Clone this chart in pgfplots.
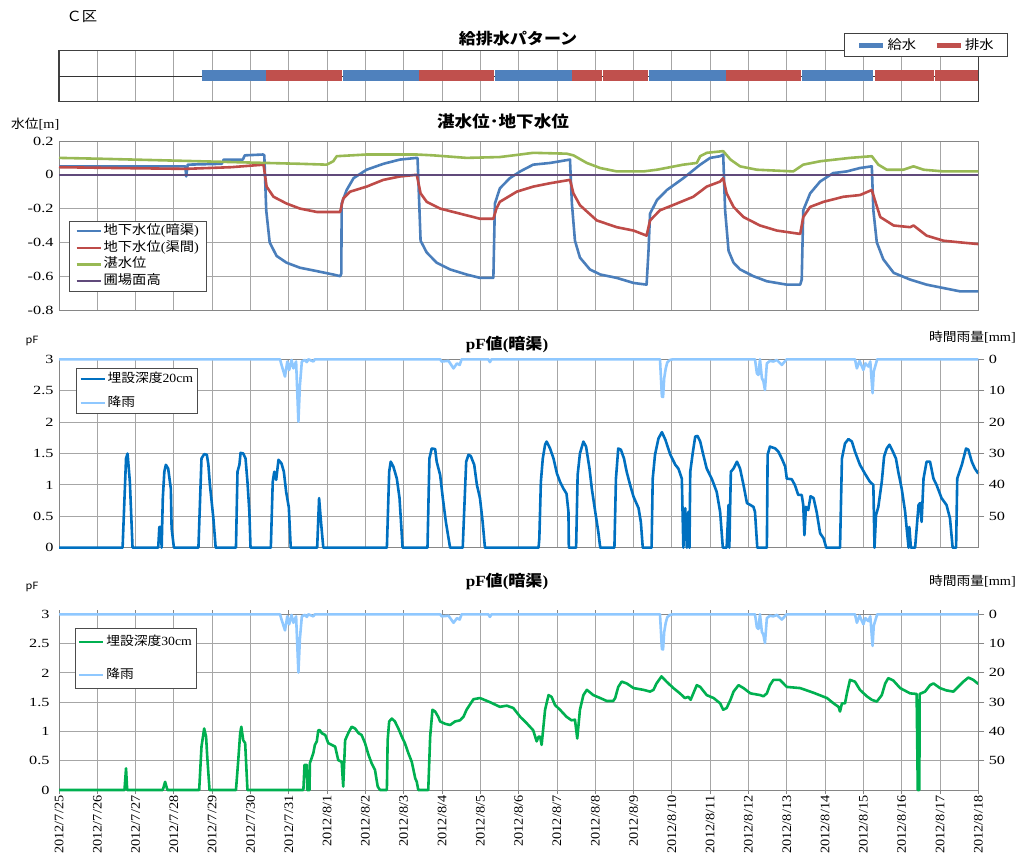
\documentclass[border=0pt]{standalone}
\usepackage{fontspec}
\setmainfont{Liberation Serif}[FakeStretch=1.1]
\newfontfamily\cjk{Noto Sans CJK JP}[FakeStretch=1.1]
\newfontfamily\tickfont{Liberation Serif}[FakeStretch=1.3]
\newfontfamily\datefont{Liberation Serif}[FakeStretch=1.1]
\usepackage{pgfplots}
\usepackage{pgfplotstable}
\pgfplotsset{compat=1.18}
\definecolor{cblue}{HTML}{4A7EBB}
\definecolor{cred}{HTML}{BE4B48}
\definecolor{cgreen}{HTML}{98B954}
\definecolor{cpurple}{HTML}{604A7B}
\definecolor{cpf20}{HTML}{0070C0}
\definecolor{crain}{HTML}{8FC8FF}
\definecolor{cpf30}{HTML}{00B050}
\definecolor{barblue}{HTML}{4F81BD}
\definecolor{barred}{HTML}{C0504D}
\definecolor{gridc}{HTML}{A6A6A6}
\definecolor{axisc}{HTML}{868686}

\pgfplotstableread{
x y
0 0
5.77 0
5.81 1.8
5.90 5.5
5.96 0.7
6.01 3.4
6.07 0.2
6.12 2.9
6.19 0.7
6.25 19.9
6.29 8.2
6.34 0.7
6.42 0.2
6.47 0.9
6.51 0
6.64 0.7
6.68 0
9.95 0
9.99 0.7
10.17 0.5
10.30 2.9
10.39 1.3
10.46 1.8
10.51 0
11.21 0
11.25 0.9
11.29 0
15.69 0
15.74 11.9
15.77 12
15.80 6
15.84 2.9
15.88 1.0
15.95 0.2
16.03 0
18.17 0
18.22 4.5
18.26 5
18.30 0
18.35 6
18.39 7
18.43 9.8
18.48 1.3
18.56 0.5
18.65 0.7
18.74 0.2
18.87 1.8
18.96 0.5
19.00 0
20.78 0
20.83 2.9
20.90 0.5
21.00 3.4
21.05 1.3
21.13 2.3
21.18 0.7
21.24 10.8
21.27 3.9
21.36 0
24 0
}\rain

\pgfplotstableread{
x y
0 0
1.66 0
1.75 1.42
1.79 1.50
1.85 1.05
1.92 0
2.59 0
2.62 0.33
2.66 0.33
2.68 0
2.71 0.79
2.75 1.21
2.79 1.32
2.85 1.26
2.92 0.94
2.94 0.31
3.00 0
3.64 0
3.72 1.42
3.79 1.49
3.86 1.48
3.90 1.32
3.94 1.0
4.03 0.47
4.09 0
4.62 0
4.66 1.21
4.71 1.32
4.74 1.51
4.81 1.50
4.87 1.42
4.92 1.05
4.97 0.57
5.00 0
5.53 0
5.58 1.05
5.62 1.21
5.67 1.08
5.73 1.40
5.81 1.34
5.87 1.21
5.93 0.89
6.00 0.64
6.05 0
6.74 0
6.79 0.79
6.84 0.41
6.90 0
8.56 0
8.62 1.21
8.66 1.37
8.73 1.29
8.82 1.10
8.89 0.79
8.97 0
9.62 0
9.67 1.42
9.73 1.58
9.82 1.57
9.86 1.37
9.95 1.16
10.02 0.79
10.10 0.41
10.21 0
10.54 0
10.63 1.37
10.69 1.48
10.75 1.46
10.84 1.32
10.91 1.0
10.99 0.79
11.06 0.41
11.12 0
12.52 0
12.54 0.15
12.58 1.05
12.63 1.42
12.69 1.64
12.73 1.69
12.82 1.58
12.91 1.42
13.00 1.18
13.08 1.05
13.17 0.94
13.25 0.86
13.30 0.57
13.31 0
13.50 0
13.54 1.16
13.60 1.50
13.69 1.69
13.76 1.61
13.85 1.26
13.91 0.94
14.00 0.57
14.08 0.25
14.13 0
14.50 0
14.54 1.10
14.60 1.58
14.67 1.56
14.75 1.42
14.82 1.21
14.91 1.0
15.00 0.81
15.13 0.63
15.19 0.41
15.24 0
15.47 0
15.50 1.10
15.56 1.48
15.65 1.74
15.74 1.84
15.83 1.72
15.96 1.48
16.09 1.32
16.17 1.26
16.26 1.10
16.30 0
16.35 0.63
16.39 0
16.43 0.57
16.46 0
16.48 1.21
16.55 1.53
16.61 1.77
16.67 1.78
16.74 1.69
16.82 1.48
16.91 1.26
17.04 1.10
17.17 0.89
17.26 0.57
17.33 0
17.43 0
17.48 0.68
17.50 0
17.54 1.21
17.61 1.26
17.70 1.37
17.78 1.26
17.87 1.0
17.96 0.71
18.05 0.68
18.13 0.65
18.17 0.57
18.23 0
18.48 0
18.50 1.48
18.56 1.61
18.70 1.58
18.78 1.53
18.87 1.42
18.96 1.29
19.00 1.10
19.13 1.09
19.21 1.0
19.30 0.84
19.39 0.84
19.43 0.68
19.46 0.20
19.50 0.65
19.56 0.60
19.62 0.82
19.70 0.79
19.78 0.57
19.87 0.23
19.96 0.15
20.03 0
20.39 0
20.44 1.42
20.52 1.66
20.61 1.73
20.70 1.69
20.78 1.53
20.91 1.32
21.04 1.18
21.17 1.05
21.26 1.0
21.29 0
21.33 0.52
21.39 0.65
21.48 1.05
21.54 1.45
21.61 1.58
21.68 1.64
21.77 1.53
21.85 1.42
21.91 1.21
22.00 0.94
22.09 0.57
22.13 0.31
22.18 0
22.20 0.33
22.24 0
22.35 0
22.44 0.68
22.48 0.71
22.52 0.41
22.57 1.10
22.65 1.37
22.74 1.37
22.83 1.10
22.91 1.0
23.04 0.79
23.17 0.68
23.26 0.47
23.33 0
23.42 0
23.45 1.10
23.57 1.32
23.68 1.58
23.74 1.56
23.83 1.37
23.91 1.26
24.00 1.18
}\pftwenty

\pgfplotstableread{
x y
0 0
1.71 0
1.75 0.37
1.78 0
2.71 0
2.77 0.14
2.83 0
3.66 0
3.72 0.74
3.79 1.05
3.84 0.91
3.87 0.57
3.93 0
4.62 0
4.68 0.51
4.73 0.97
4.76 1.08
4.81 0.85
4.86 0.80
4.92 0
6.38 0
6.41 0.43
6.47 0.43
6.48 0
6.54 0
6.55 0.46
6.64 0.63
6.68 0.77
6.73 0.83
6.77 1.02
6.81 1.02
6.86 0.97
6.95 0.94
7.03 0.80
7.12 0.77
7.21 0.74
7.29 0.51
7.38 0.48
7.42 0.06
7.47 0.85
7.55 0.97
7.64 1.08
7.73 1.05
7.82 0.97
7.90 0.94
7.99 0.80
8.08 0.60
8.16 0.46
8.25 0.34
8.32 0.06
8.38 0
8.56 0
8.58 0.85
8.62 1.17
8.69 1.22
8.77 1.17
8.86 1.05
8.95 0.91
9.03 0.80
9.12 0.63
9.21 0.48
9.30 0.20
9.34 0.14
9.38 0
9.64 0
9.69 0.91
9.75 1.37
9.82 1.34
9.90 1.25
9.95 1.17
10.08 1.13
10.21 1.11
10.34 1.17
10.47 1.19
10.56 1.25
10.64 1.37
10.73 1.46
10.82 1.55
10.99 1.57
11.25 1.50
11.51 1.42
11.69 1.44
11.86 1.40
12.04 1.25
12.21 1.14
12.38 1.02
12.47 0.83
12.52 0.91
12.56 0.91
12.60 0.77
12.69 1.37
12.78 1.62
12.86 1.59
12.95 1.45
13.08 1.37
13.25 1.25
13.38 1.19
13.47 1.20
13.53 0.88
13.60 1.37
13.69 1.62
13.78 1.71
13.95 1.62
14.13 1.57
14.30 1.52
14.47 1.52
14.52 1.57
14.60 1.76
14.69 1.85
14.82 1.82
15.00 1.74
15.26 1.71
15.43 1.68
15.52 1.71
15.60 1.82
15.73 1.94
15.86 1.85
16.04 1.74
16.21 1.65
16.34 1.57
16.43 1.59
16.49 1.54
16.56 1.65
16.65 1.79
16.74 1.76
16.91 1.62
17.09 1.57
17.26 1.48
17.34 1.37
17.43 1.40
17.53 1.54
17.61 1.68
17.74 1.79
17.87 1.74
18.05 1.65
18.31 1.62
18.39 1.60
18.48 1.65
18.56 1.79
18.65 1.88
18.82 1.88
19.00 1.76
19.35 1.74
19.70 1.66
20.05 1.57
20.22 1.48
20.35 1.42
20.39 1.34
20.44 1.48
20.52 1.48
20.57 1.65
20.65 1.88
20.78 1.85
20.91 1.71
21.09 1.60
21.22 1.54
21.35 1.51
21.48 1.62
21.57 1.82
21.65 1.91
21.78 1.87
21.96 1.74
22.22 1.65
22.39 1.64
22.42 0
22.46 0
22.47 1.64
22.61 1.68
22.74 1.79
22.83 1.82
23.00 1.74
23.17 1.70
23.35 1.68
23.44 1.74
23.61 1.85
23.74 1.92
23.87 1.88
24.00 1.81
}\pfthirty

\pgfplotsset{
  base/.style={scale only axis, width=919.3pt, xmin=0, xmax=24,
    xtick={0,...,24}, clip=false,
    major grid style={draw=gridc, line width=0.9pt},
    axis line style={draw=axisc, line width=0.9pt},
    yticklabel style={font=\tickfont\fontsize{12.5}{12}\selectfont, xshift=-2pt},
    ytick style={draw=none}},
  limg/.style={legend image code/.code={\draw[##1] (0pt,0pt) -- (24pt,0pt);}},
}

\begin{document}
\begin{tikzpicture}
\useasboundingbox (0pt,0pt) rectangle (1018pt,852pt);

% ---------- panel 1 ----------
\begin{axis}[base, at={(59pt,750.7pt)}, anchor=south west, height=50.6pt,
  ymin=0, ymax=1, ytick=\empty, xticklabels={}, xmajorgrids,
  xtick style={draw=none},
  axis line style={draw=black!75, line width=1.2pt},
  legend columns=2,
  legend image code/.code={\draw[#1] (0pt,0pt) -- (24pt,0pt);},
  legend style={at={(axis description cs:0.854,1.35)}, anchor=north west,
    draw=black!75, line width=0.9pt, fill=white,
    font=\cjk\fontsize{13}{14}\selectfont, inner xsep=12pt, inner ysep=3.5pt,
    /tikz/every even column/.append style={column sep=16pt}}]
\addplot[black!80, line width=0.9pt, forget plot] coordinates {(0,0.5) (24,0.5)};
\addplot[barblue, line width=11pt, forget plot] coordinates {(3.73,0.5) (5.395,0.5)};
\addplot[barred, line width=11pt, forget plot] coordinates {(5.41,0.5) (7.395,0.5)};
\addplot[barblue, line width=11pt, forget plot] coordinates {(7.41,0.5) (9.395,0.5)};
\addplot[barred, line width=11pt, forget plot] coordinates {(9.41,0.5) (11.365,0.5)};
\addplot[barblue, line width=11pt, forget plot] coordinates {(11.38,0.5) (12.475,0.5)};
\addplot[barblue, line width=11pt, forget plot] coordinates {(12.49,0.5) (13.385,0.5)};
\addplot[barred, line width=11pt, forget plot] coordinates {(13.40,0.5) (14.175,0.5)};
\addplot[barred, line width=11pt, forget plot] coordinates {(14.19,0.5) (15.385,0.5)};
\addplot[barblue, line width=11pt, forget plot] coordinates {(15.40,0.5) (17.405,0.5)};
\addplot[barred, line width=11pt, forget plot] coordinates {(17.42,0.5) (19.37,0.5)};
\addplot[barblue, line width=11pt, forget plot] coordinates {(19.41,0.5) (21.26,0.5)};
\addplot[barred, line width=11pt, forget plot] coordinates {(21.30,0.5) (22.845,0.5)};
\addplot[barred, line width=11pt, forget plot] coordinates {(22.86,0.5) (24,0.5)};
\addlegendimage{barblue, line width=5pt}
\addlegendentry{給水}
\addlegendimage{barred, line width=5pt}
\addlegendentry{排水}
\end{axis}

% ---------- panel 2 ----------
\begin{axis}[base, limg, at={(59pt,542pt)}, anchor=south west, height=169pt,
  ymin=-0.8, ymax=0.2, ytick={-0.8,-0.6,-0.4,-0.2,0,0.2},
  yticklabels={-0.8,-0.6,-0.4,-0.2,0,0.2}, xticklabels={}, grid=major,
  xtick style={draw=none},
  legend cell align=left,
  legend style={at={(axis description cs:0.0109,0.527)}, anchor=north west,
    draw=black!70, line width=0.8pt, fill=white,
    font=\fontsize{13}{13}\selectfont, inner xsep=6pt, inner ysep=1.5pt,
    nodes={inner sep=1.6pt, text height=10pt, text depth=3.5pt}, row sep=0pt}]
\addplot[cblue, line width=2.6pt, line join=round] coordinates {
(0,0.05) (1.5,0.05) (3.30,0.05) (3.32,-0.01) (3.36,0.06) (4.25,0.065) (4.30,0.09)
(4.80,0.09) (4.85,0.115) (5.33,0.12) (5.36,0.115) (5.41,-0.21) (5.50,-0.40) (5.68,-0.48)
(5.94,-0.52) (6.29,-0.55) (6.73,-0.57) (7.16,-0.59) (7.34,-0.60) (7.37,-0.585)
(7.38,-0.17) (7.51,-0.09) (7.69,-0.02) (8.03,0.03) (8.47,0.065) (8.90,0.09) (9.34,0.10)
(9.36,0.10) (9.44,-0.39) (9.60,-0.46) (9.86,-0.52) (10.21,-0.56) (10.64,-0.59)
(10.99,-0.61) (11.34,-0.61) (11.38,-0.17) (11.51,-0.08) (11.77,-0.02) (12.04,0.02)
(12.38,0.06) (12.82,0.07) (13.34,0.09) (13.39,-0.17) (13.47,-0.39) (13.60,-0.49)
(13.86,-0.56) (14.13,-0.59) (14.56,-0.61) (15.00,-0.64) (15.34,-0.65) (15.39,-0.45)
(15.43,-0.23) (15.61,-0.15) (15.87,-0.09) (16.30,-0.02) (16.74,0.06) (17.00,0.10)
(17.26,0.11) (17.34,0.12) (17.39,-0.21) (17.48,-0.45) (17.61,-0.52) (17.78,-0.56)
(18.13,-0.60) (18.48,-0.63) (19.00,-0.65) (19.35,-0.65) (19.39,-0.62) (19.43,-0.21)
(19.61,-0.11) (19.87,-0.04) (20.21,0.01) (20.57,0.02) (20.91,0.04) (21.22,0.05)
(21.26,-0.21) (21.35,-0.40) (21.52,-0.50) (21.79,-0.58) (22.22,-0.62) (22.65,-0.65)
(23.09,-0.67) (23.53,-0.69) (24,-0.69)};
\addlegendentry{{\cjk 地下水位}({\cjk 暗渠})}
\addplot[cred, line width=2.6pt, line join=round] coordinates {
(0,0.045) (1.5,0.04) (3.3,0.035) (4.5,0.045) (5.34,0.06) (5.42,-0.07) (5.60,-0.13)
(5.94,-0.17) (6.29,-0.20) (6.73,-0.22) (7.34,-0.22) (7.42,-0.14) (7.60,-0.10)
(8.03,-0.07) (8.47,-0.03) (8.90,-0.01) (9.34,0.0) (9.44,-0.11) (9.60,-0.16)
(9.95,-0.20) (10.47,-0.23) (10.99,-0.26) (11.34,-0.26) (11.42,-0.20) (11.51,-0.16)
(11.95,-0.10) (12.38,-0.07) (12.82,-0.05) (13.34,-0.03) (13.43,-0.11) (13.60,-0.18)
(14.04,-0.27) (14.56,-0.31) (15.00,-0.33) (15.34,-0.36) (15.43,-0.27) (15.69,-0.21)
(16.13,-0.17) (16.56,-0.13) (16.91,-0.07) (17.26,-0.04) (17.34,-0.02) (17.43,-0.11)
(17.61,-0.19) (17.87,-0.25) (18.30,-0.30) (18.74,-0.33) (19.35,-0.35) (19.43,-0.25)
(19.61,-0.19) (19.96,-0.16) (20.48,-0.13) (20.91,-0.12) (21.22,-0.09) (21.30,-0.15)
(21.44,-0.25) (21.79,-0.30) (22.22,-0.31) (22.31,-0.30) (22.65,-0.36) (23.09,-0.39)
(23.53,-0.40) (24,-0.41)};
\addlegendentry{{\cjk 地下水位}({\cjk 渠間})}
\addplot[cgreen, line width=2.6pt, line join=round] coordinates {
(0,0.10) (1.07,0.095) (2.81,0.085) (4.55,0.075) (5.42,0.07) (6.29,0.065) (6.99,0.06)
(7.16,0.08) (7.25,0.11) (8.03,0.12) (9.34,0.12) (9.77,0.115) (10.64,0.10) (11.51,0.105)
(12.04,0.12) (12.38,0.13) (13.25,0.125) (13.43,0.115) (13.78,0.07) (14.13,0.04)
(14.56,0.02) (15.26,0.02) (15.61,0.03) (16.30,0.06) (16.65,0.07) (16.74,0.11)
(16.91,0.13) (17.34,0.14) (17.53,0.09) (17.78,0.05) (18.22,0.03) (19.17,0.02)
(19.43,0.06) (19.87,0.08) (20.65,0.10) (21.22,0.11) (21.39,0.06) (21.61,0.03)
(22.04,0.03) (22.31,0.05) (22.57,0.03) (23.09,0.02) (24,0.02)};
\addlegendentry{\cjk 湛水位}
\addplot[cpurple, line width=2.4pt] coordinates {(0,0) (24,0)};
\addlegendentry{\cjk 圃場面高}
\end{axis}

% ---------- panel 3 ----------
\begin{axis}[base, limg, at={(59pt,304.3pt)}, anchor=south west, height=188.4pt,
  ymin=0, ymax=3, ytick={0,0.5,1,1.5,2,2.5,3},
  yticklabels={0,0.5,1,1.5,2,2.5,3}, xticklabels={}, grid=major,
  xtick style={draw=none},
  legend cell align=left,
  legend style={at={(axis description cs:0.0185,0.952)}, anchor=north west,
    draw=black!70, line width=0.8pt, fill=white,
    font=\fontsize{12.5}{12}\selectfont, inner xsep=3pt, inner ysep=2pt,
    nodes={inner sep=1.6pt, text height=10pt, text depth=3pt}, row sep=8pt}]
\addplot[cpf20, line width=2.6pt, line join=round] table {\pftwenty};
\addlegendentry{{\cjk 埋設深度}20cm}
\addlegendimage{crain, line width=2.6pt}
\addlegendentry{\cjk 降雨}
\end{axis}
\begin{axis}[scale only axis, width=919.3pt, height=188.4pt, at={(59pt,304.3pt)},
  anchor=south west, xmin=0, xmax=24, ymin=0, ymax=60, y dir=reverse,
  axis y line*=right, axis x line=none, clip=false,
  ytick={0,10,20,30,40,50}, yticklabels={0,10,20,30,40,50},
  tick align=outside, major tick length=6pt,
  ytick style={draw=axisc, line width=0.9pt},
  axis line style={draw=axisc, line width=0.9pt},
  yticklabel style={font=\tickfont\fontsize{12.5}{12}\selectfont, anchor=west, xshift=1pt}]
\addplot[crain, line width=2.6pt, line join=round] table {\rain};
\end{axis}

% ---------- panel 4 ----------
\begin{axis}[base, limg, at={(59pt,62pt)}, anchor=south west, height=175.7pt,
  ymin=0, ymax=3, ytick={0,0.5,1,1.5,2,2.5,3},
  yticklabels={0,0.5,1,1.5,2,2.5,3}, grid=major,
  tick align=outside, major tick length=4pt,
  xtick style={draw=axisc, line width=0.9pt},
  xticklabels={2012/7/25,2012/7/26,2012/7/27,2012/7/28,2012/7/29,2012/7/30,2012/7/31,
    2012/8/1,2012/8/2,2012/8/3,2012/8/4,2012/8/5,2012/8/6,2012/8/7,2012/8/8,2012/8/9,
    2012/8/10,2012/8/11,2012/8/12,2012/8/13,2012/8/14,2012/8/15,2012/8/16,2012/8/17,2012/8/18},
  xticklabel style={rotate=90, anchor=east, font=\datefont\fontsize{13}{13}\selectfont, inner sep=1.5pt},
  legend cell align=left,
  legend style={at={(axis description cs:0.0171,0.920)}, anchor=north west,
    draw=black!70, line width=0.8pt, fill=white,
    font=\fontsize{12.5}{12}\selectfont, inner xsep=3pt, inner ysep=5pt,
    nodes={inner sep=1.6pt, text height=10pt, text depth=3pt}, row sep=17pt}]
\addplot[cpf30, line width=2.6pt, line join=round] table {\pfthirty};
\addlegendentry{{\cjk 埋設深度}30cm}
\addlegendimage{crain, line width=2.6pt}
\addlegendentry{\cjk 降雨}
\end{axis}
\begin{axis}[scale only axis, width=919.3pt, height=175.7pt, at={(59pt,62pt)},
  anchor=south west, xmin=0, xmax=24, ymin=0, ymax=60, y dir=reverse,
  axis y line*=right, axis x line=none, clip=false,
  ytick={0,10,20,30,40,50}, yticklabels={0,10,20,30,40,50},
  tick align=outside, major tick length=6pt,
  ytick style={draw=axisc, line width=0.9pt},
  axis line style={draw=axisc, line width=0.9pt},
  yticklabel style={font=\tickfont\fontsize{12.5}{12}\selectfont, anchor=west, xshift=1pt}]
\addplot[crain, line width=2.6pt, line join=round] table {\rain};
\end{axis}

% ---------- texts ----------
\node[anchor=west, font=\cjk\fontsize{14}{14}\selectfont] at (63pt,835pt) {Ｃ区};
\node[font=\cjk\bfseries\fontsize{15.5}{16}\selectfont] at (518pt,813pt) {給排水パターン};
\node[font=\cjk\bfseries\fontsize{16}{16}\selectfont] at (503pt,731pt) {湛水位･地下水位};
\node[anchor=west, inner sep=0pt] at (11pt,728pt) {{\cjk\fontsize{12.5}{12}\selectfont 水位}{\fontsize{13}{12}\selectfont[m]}};
\node[font=\cjk\fontsize{10}{10}\selectfont] at (32pt,511pt) {pF};
\node[font=\cjk\fontsize{10}{10}\selectfont] at (32pt,265pt) {pF};
\node[font=\bfseries\fontsize{15.5}{16}\selectfont] at (507pt,507pt) {pF{\cjk 値}({\cjk 暗渠})};
\node[font=\bfseries\fontsize{15.5}{16}\selectfont] at (507pt,270pt) {pF{\cjk 値}({\cjk 暗渠})};
\node[anchor=east, inner sep=0pt] at (1016pt,515pt) {{\cjk\fontsize{12.5}{12}\selectfont 時間雨量}{\fontsize{13}{12}\selectfont[mm]}};
\node[anchor=east, inner sep=0pt] at (1016pt,271pt) {{\cjk\fontsize{12.5}{12}\selectfont 時間雨量}{\fontsize{13}{12}\selectfont[mm]}};
\end{tikzpicture}
\end{document}
